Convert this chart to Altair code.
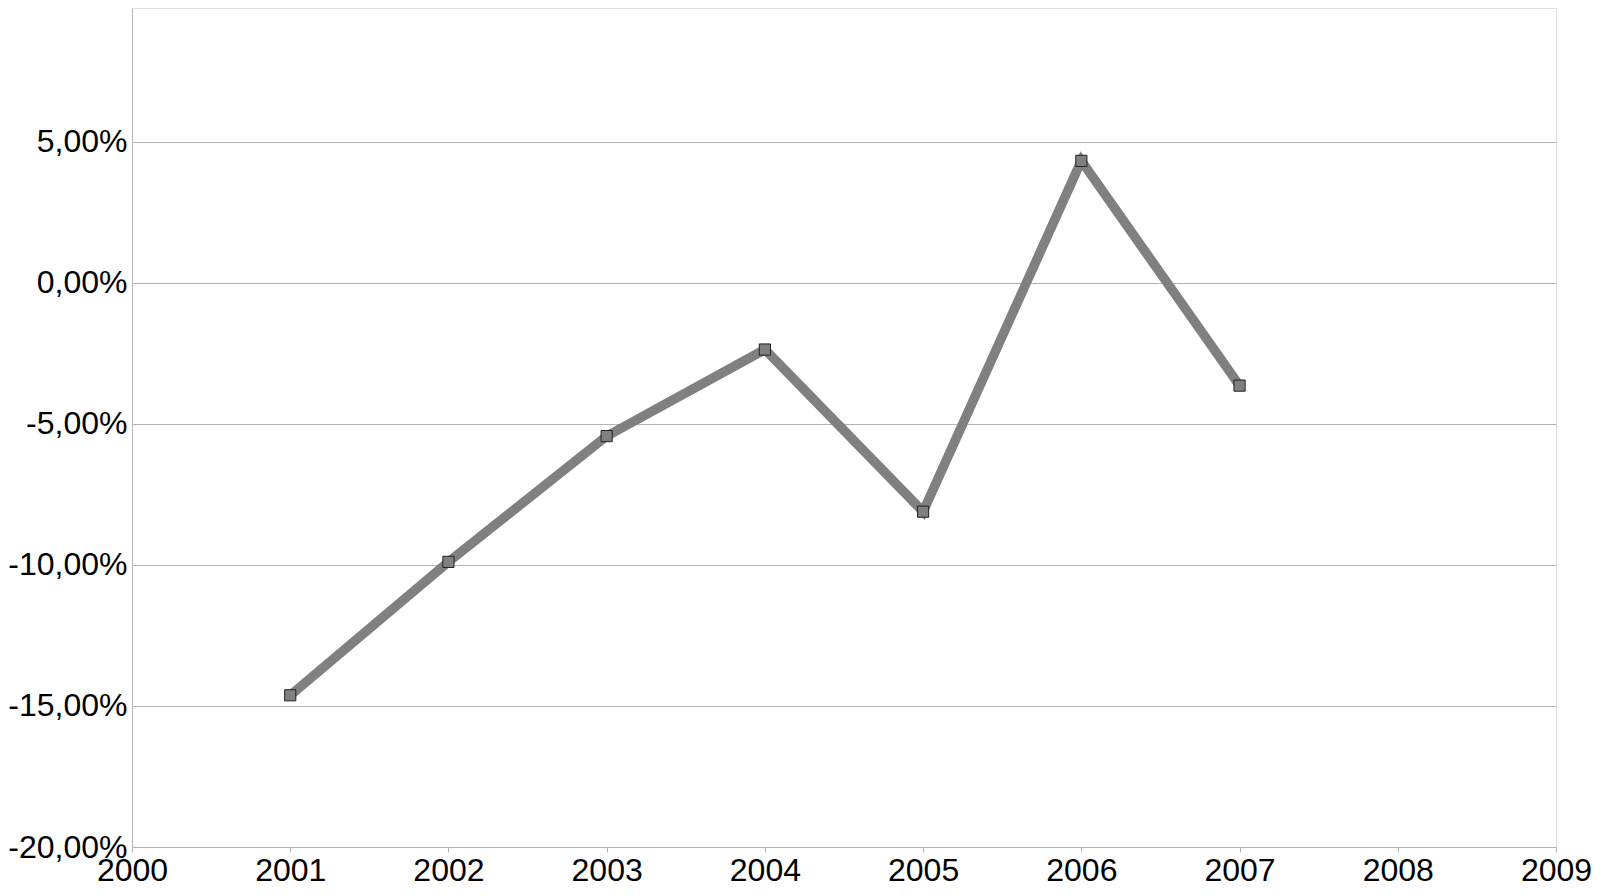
import altair as alt
import pandas as pd

years = [2001, 2002, 2003, 2004, 2005, 2006, 2007]
values = [-14.62, -9.89, -5.43, -2.36, -8.11, 4.33, -3.64]
x_ticks = [2000, 2001, 2002, 2003, 2004, 2005, 2006, 2007, 2008, 2009]
y_ticks = [-20, -15, -10, -5, 0, 5]

df = pd.DataFrame({"year": years, "value": values})

label_expr = "(datum.value < 0 ? '-' : '') + replace(format(abs(datum.value), '.2f'), '.', ',') + '%'"

x = alt.X("year:Q",
          scale=alt.Scale(domain=[2000, 2009], nice=False, zero=False),
          axis=alt.Axis(values=x_ticks, format="d", title=None, grid=False,
                        labelFontSize=32, labelFont="Liberation Sans", labelColor="#000000",
                        tickSize=5, tickColor="#b3b3b3", domainColor="#b3b3b3",
                        labelPadding=3, labelFlush=False, labelOverlap=False))
y = alt.Y("value:Q",
          scale=alt.Scale(domain=[-20, 9.75], nice=False, zero=False),
          axis=alt.Axis(values=y_ticks, labelExpr=label_expr, title=None, grid=True,
                        gridColor="#b3b3b3", gridWidth=1,
                        labelFontSize=32, labelFont="Liberation Sans", labelColor="#000000",
                        ticks=False, domainColor="#b3b3b3", labelPadding=5,
                        labelFlush=False, labelOverlap=False))

line = alt.Chart(df).mark_line(color="#808080", strokeWidth=9.5).encode(x=x, y=y)
pts = alt.Chart(df).mark_point(shape="square", filled=True, size=125, color="#808080",
                               stroke="#222222", strokeWidth=1, opacity=1).encode(x=x, y=y)

chart = (line + pts).properties(
    width=1424, height=839,
    autosize=alt.AutoSizeParams(type="none"),
    padding={"left": 124, "top": 0, "right": 36, "bottom": 41},
).configure_view(stroke="#b3b3b3", strokeWidth=1).configure(background="white")

chart.save("out.html", embed_options={"renderer": "svg", "actions": False})
